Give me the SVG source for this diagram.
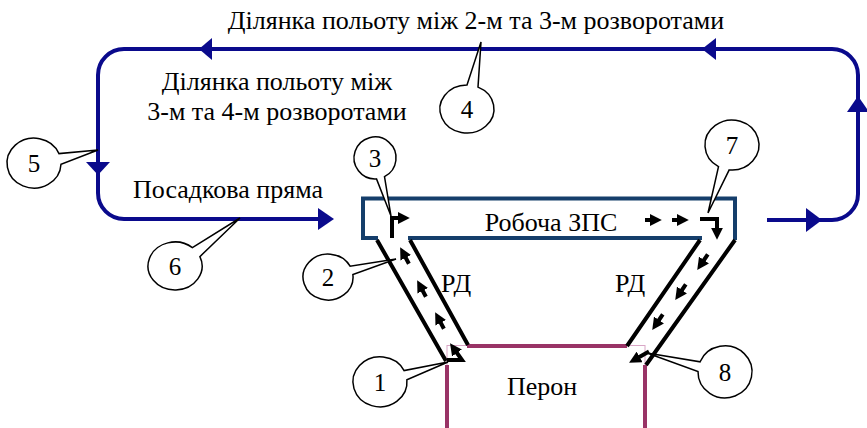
<svg xmlns="http://www.w3.org/2000/svg" width="867" height="428" viewBox="0 0 867 428">
<style>
text{font-family:"Liberation Serif","Times New Roman",serif;fill:#000}
.lbl{font-size:26px}
.num{font-size:25px;text-anchor:middle}
.loop{fill:none;stroke:#0a0a8c;stroke-width:4}
.bhead{fill:#0a0a8c}
.rwy{fill:none;stroke:#153e6b;stroke-width:4}
.twy{fill:none;stroke:#000;stroke-width:4}
.apr{fill:none;stroke:#993366;stroke-width:4}
.aprthin{fill:none;stroke:#d9a6c6;stroke-width:1}
.sa{fill:none;stroke:#000;stroke-width:4;marker-end:url(#ah)}
.co{fill:#fff;stroke:#000;stroke-width:1.5}
</style>
<defs>
<marker id="ah" viewBox="0 0 10 10" refX="1" refY="5" markerWidth="12" markerHeight="12" markerUnits="userSpaceOnUse" orient="auto">
<path d="M0,0 L10,5 L0,10 z" fill="#000"/>
</marker>
</defs>
<rect width="867" height="428" fill="#fff"/>

<g id="runway">
<rect x="363" y="198.5" width="372" height="40" fill="#fff"/>
<path class="rwy" d="M378,238 H363 V198.5 H735 V240"/>
<path class="rwy" d="M408,238 H702"/>
<text class="lbl" x="551" y="231" text-anchor="middle">Робоча ЗПС</text>
</g>

<g id="apron">
<rect class="aprthin" x="447" y="345.5" width="198" height="100"/>
<path class="apr" d="M447,365 V430 M467,346 H627 M645,365 V430"/>
<text class="lbl" x="542" y="395" text-anchor="middle">Перон</text>
</g>

<g id="taxiway-left">
<path class="twy" d="M377,240 L446,361 M410,240 L468,345"/>
<text class="lbl" x="441" y="292">РД</text>
</g>

<g id="taxiway-right">
<path class="twy" d="M700,240 L627,346 M735,240 L646,365"/>
<text class="lbl" x="615" y="292">РД</text>
</g>

<g id="labels">
<text class="lbl" x="476" y="29" text-anchor="middle">Ділянка польоту між 2-м та 3-м розворотами</text>
<text class="lbl" x="277" y="90" text-anchor="middle">Ділянка польоту між</text>
<text class="lbl" x="277" y="120" text-anchor="middle">3-м та 4-м розворотами</text>
<text class="lbl" x="133" y="198">Посадкова пряма</text>
</g>

<g id="connectors">
<path class="loop" d="M767,220 H832 A26,26 0 0 0 858,194 V75 A26,26 0 0 0 832,49 H124 A26,26 0 0 0 98,75 V193 A26,26 0 0 0 124,219 H320"/>
<polygon class="bhead" points="822,220 806,208 806,232"/>
<polygon class="bhead" points="858,96 847,112 869,112"/>
<polygon class="bhead" points="702,49 716,38 716,60"/>
<polygon class="bhead" points="199,49 212,38 212,60"/>
<polygon class="bhead" points="98,175 86,162 110,162"/>
<polygon class="bhead" points="334,219 318,208 318,230"/>

<polyline class="sa" points="392,238 392,218 399,218"/>
<line class="sa" x1="645" y1="220" x2="651" y2="220"/>
<line class="sa" x1="672" y1="220" x2="678" y2="220"/>
<polyline class="sa" points="700,219 717,219 717,229"/>

<line class="sa" x1="408.9" y1="263.7" x2="405.2" y2="256.7"/>
<line class="sa" x1="425.9" y1="296.7" x2="422.2" y2="289.7"/>
<line class="sa" x1="443.9" y1="328.7" x2="440.2" y2="321.7"/>
<polyline class="sa" points="447,360 462,360 456.3,352"/>

<line class="sa" x1="707.8" y1="254.4" x2="703.3" y2="261"/>
<line class="sa" x1="685.8" y1="284.4" x2="681.3" y2="291"/>
<line class="sa" x1="662.8" y1="314.4" x2="658.3" y2="321"/>
<line class="sa" x1="649" y1="351.6" x2="638.5" y2="357.5"/>
</g>

<g id="callout-1">
<path class="co" d="M406.9,379.8 A27,25 0 1 1 404.1,370.6 L448,362 Z"/>
<text class="num" x="380" y="391">1</text>
</g>
<g id="callout-2">
<path class="co" d="M352.9,274.6 A25,23 0 1 1 350.1,266.2 L396,259 Z"/>
<text class="num" x="328" y="286">2</text>
</g>
<g id="callout-3">
<path class="co" d="M376.5,178.9 A21,21 0 1 1 384.5,176.7 L391,216 Z"/>
<text class="num" x="375" y="167">3</text>
</g>
<g id="callout-4">
<path class="co" d="M478,87.1 A27,24 0 1 1 467,85 L481,42 Z"/>
<text class="num" x="467" y="118">4</text>
</g>
<g id="callout-5">
<path class="co" d="M61,164.3 A27,25 0 1 1 59,153.6 L98,150 Z"/>
<text class="num" x="34" y="172">5</text>
</g>
<g id="callout-6">
<path class="co" d="M199.9,256.6 A27,24 0 1 1 192.4,247.6 L240,218 Z"/>
<text class="num" x="175" y="275">6</text>
</g>
<g id="callout-7">
<path class="co" d="M718.5,166.7 A27,25 0 1 1 729.2,169.9 L708,213 Z"/>
<text class="num" x="732" y="154">7</text>
</g>
<g id="callout-8">
<path class="co" d="M700.1,361.8 A27,26 0 1 1 698,371.5 L647,353 Z"/>
<text class="num" x="725" y="381">8</text>
</g>
</svg>
